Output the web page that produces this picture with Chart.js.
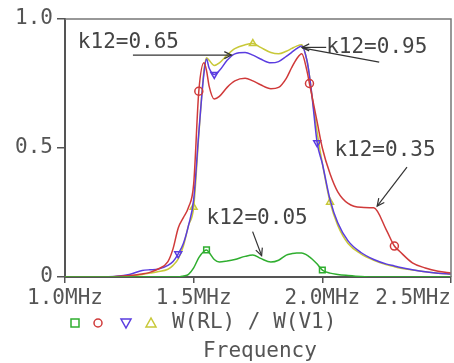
<!DOCTYPE html>
<html>
<head>
<meta charset="utf-8">
<script src="https://cdn.jsdelivr.net/npm/chart.js@4.4.1/dist/chart.umd.min.js"></script>
<style>
  html, body { margin: 0; padding: 0; background: #fff; }
  #wrap { width: 454px; height: 363px; position: relative; }
</style>
</head>
<body>
<div id="wrap"><canvas id="Filter"></canvas></div>
<script>
// frequency grid (MHz) shared by all curves
const freq = [1.0, 1.15, 1.2, 1.25, 1.3, 1.33, 1.36, 1.4, 1.42, 1.44,
  1.46, 1.48, 1.5, 1.52, 1.54, 1.55, 1.56, 1.58, 1.6, 1.63,
  1.66, 1.7, 1.73, 1.76, 1.8, 1.83, 1.86, 1.88, 1.9, 1.92,
  1.94, 1.95, 1.96, 1.98, 2.0, 2.03, 2.06, 2.1, 2.15, 2.2,
  2.25, 2.28, 2.3, 2.35, 2.4, 2.45, 2.5];

// W(RL)/W(V1) for each coupling factor
const k005 = [0, 0, 0, 0, 0, 0, 0, 0, 0, 0,
  0.004, 0.01, 0.035, 0.075, 0.1, 0.105, 0.095, 0.068, 0.058, 0.062,
  0.068, 0.08, 0.085, 0.072, 0.058, 0.065, 0.085, 0.09, 0.093, 0.093,
  0.085, 0.078, 0.07, 0.05, 0.027, 0.015, 0.01, 0.006, 0.002, 0,
  0, 0, 0, 0, 0, 0, 0];
const k035 = [0, 0, 0.002, 0.006, 0.012, 0.018, 0.03, 0.06, 0.11, 0.19,
  0.23, 0.27, 0.36, 0.72, 0.83, 0.8, 0.74, 0.69, 0.7, 0.735,
  0.76, 0.77, 0.76, 0.745, 0.73, 0.735, 0.77, 0.81, 0.845, 0.865,
  0.8, 0.75, 0.7, 0.6, 0.5, 0.4, 0.33, 0.285, 0.27, 0.268,
  0.18, 0.12, 0.1, 0.055, 0.035, 0.022, 0.015];
const k065 = [0, 0.001, 0.003, 0.01, 0.025, 0.028, 0.03, 0.045, 0.06, 0.09,
  0.13, 0.2, 0.3, 0.56, 0.79, 0.845, 0.81, 0.785, 0.8, 0.84,
  0.865, 0.87, 0.86, 0.845, 0.83, 0.835, 0.855, 0.87, 0.885, 0.895,
  0.84, 0.78, 0.7, 0.52, 0.44, 0.3, 0.21, 0.14, 0.095, 0.068,
  0.05, 0.043, 0.038, 0.028, 0.02, 0.015, 0.012];
const k095 = [0, 0, 0.002, 0.005, 0.01, 0.015, 0.02, 0.03, 0.045, 0.07,
  0.12, 0.2, 0.27, 0.55, 0.8, 0.85, 0.84, 0.82, 0.83, 0.86,
  0.885, 0.9, 0.905, 0.89, 0.87, 0.865, 0.875, 0.885, 0.895, 0.9,
  0.84, 0.78, 0.7, 0.56, 0.44, 0.29, 0.2, 0.13, 0.09, 0.065,
  0.047, 0.04, 0.035, 0.027, 0.02, 0.015, 0.012];

// where the probe puts its symbols
const mark005 = [1.55, 2.0];
const mark035 = [1.52, 1.95, 2.28];
const mark065 = [1.44, 1.58, 1.98];
const mark095 = [1.5, 1.73, 2.03];

const xTicks = [1.0, 1.5, 2.0, 2.5];
const xLabels = ["1.0MHz", "1.5MHz", "2.0MHz", "2.5MHz"];

const FONT = '21px "DejaVu Sans Mono", "Liberation Mono", monospace';
const TXT = "#555";

function series(vals, marks, color, style, rot) {
  return {
    data: freq.map((f, i) => ({ x: f, y: vals[i] })),
    borderColor: color,
    backgroundColor: "rgba(0,0,0,0)",
    borderWidth: 1.5,
    pointStyle: style,
    rotation: rot,
    pointBorderWidth: 1.5,
    pointBorderColor: color,
    pointBackgroundColor: "rgba(0,0,0,0)",
    pointRadius: c => marks.includes(freq[c.dataIndex]) ? 4 : 0,
    tension: 0.3,
    cubicInterpolationMode: "monotone",
  };
}

function arrowHead(ctx, x0, y0, x1, y1) {
  const a = Math.atan2(y1 - y0, x1 - x0);
  ctx.beginPath();
  ctx.moveTo(x1 - 8 * Math.cos(a - 0.45), y1 - 8 * Math.sin(a - 0.45));
  ctx.lineTo(x1, y1);
  ctx.lineTo(x1 - 8 * Math.cos(a + 0.45), y1 - 8 * Math.sin(a + 0.45));
  ctx.stroke();
}

// labels, arrows, x tick text, frame and symbol legend
const probeDeco = {
  id: "probeDeco",
  afterDraw(chart) {
    const { ctx, chartArea: a, scales: { x, y } } = chart;
    const P = (f, v) => [x.getPixelForValue(f), y.getPixelForValue(v)];
    ctx.save();

    // top + right frame
    ctx.strokeStyle = "#777";
    ctx.lineWidth = 1.5;
    ctx.beginPath();
    ctx.moveTo(a.left, a.top);
    ctx.lineTo(a.right, a.top);
    ctx.lineTo(a.right, a.bottom);
    ctx.stroke();

    ctx.font = FONT;
    ctx.fillStyle = TXT;
    ctx.textBaseline = "middle";

    // x tick labels, last one kept inside the canvas
    xTicks.forEach((v, i) => {
      const w = ctx.measureText(xLabels[i]).width;
      let l = x.getPixelForValue(v) - w / 2;
      l = Math.min(l, chart.width - w - 3);
      ctx.fillText(xLabels[i], l, a.bottom + 22);
    });

    // curve labels
    ctx.fillStyle = "#444";
    const notes = [
      ["k12=0.65", 1.05, 0.907],
      ["k12=0.95", 2.015, 0.89],
      ["k12=0.35", 2.047, 0.492],
      ["k12=0.05", 1.55, 0.225],
    ];
    notes.forEach(([t, f, v]) => {
      const [px, py] = P(f, v);
      ctx.fillText(t, px, py);
    });

    ctx.strokeStyle = "#333";
    ctx.lineWidth = 1.2;
    const line = (f0, v0, f1, v1, head) => {
      const [x0, y0] = P(f0, v0), [x1, y1] = P(f1, v1);
      ctx.beginPath();
      ctx.moveTo(x0, y0);
      ctx.lineTo(x1, y1);
      ctx.stroke();
      if (head) arrowHead(ctx, x0, y0, x1, y1);
    };
    line(1.264, 0.86, 1.647, 0.86, true);
    line(2.015, 0.89, 1.921, 0.89, true);
    line(1.921, 0.888, 2.221, 0.833, false);
    line(2.329, 0.426, 2.213, 0.275, true);
    line(1.729, 0.176, 1.764, 0.083, true);

    // symbol legend + trace name
    const ly = a.bottom + 46;
    ctx.lineWidth = 1.5;
    ctx.strokeStyle = "#2fae2f";
    ctx.strokeRect(71, ly - 4, 8, 8);
    ctx.strokeStyle = "#d03a3a";
    ctx.beginPath(); ctx.arc(98, ly, 4, 0, Math.PI * 2); ctx.stroke();
    ctx.strokeStyle = "#5a3ce0";
    ctx.beginPath(); ctx.moveTo(121, ly - 4); ctx.lineTo(131, ly - 4); ctx.lineTo(126, ly + 5); ctx.closePath(); ctx.stroke();
    ctx.strokeStyle = "#c8c838";
    ctx.beginPath(); ctx.moveTo(146, ly + 4); ctx.lineTo(156, ly + 4); ctx.lineTo(151, ly - 5); ctx.closePath(); ctx.stroke();

    ctx.fillStyle = TXT;
    ctx.fillText("W(RL) / W(V1)", 172, ly);
    ctx.textAlign = "center";
    ctx.fillText("Frequency", 260, a.bottom + 75);
    ctx.restore();
  }
};

const chart = new Chart(document.getElementById("Filter").getContext("2d"), {
  type: "line",
  data: {
    datasets: [
      series(k005, mark005, "#2fae2f", "rect", 0),
      series(k035, mark035, "#d03a3a", "circle", 0),
      series(k065, mark065, "#5a3ce0", "triangle", 180),
      series(k095, mark095, "#c8c838", "triangle", 0),
    ],
  },
  options: {
    responsive: true,
    maintainAspectRatio: false,
    animation: false,
    layout: { padding: { top: 19, right: 3, left: 0, bottom: 0 } },
    plugins: { legend: { display: false }, tooltip: { enabled: false } },
    scales: {
      x: {
        type: "linear",
        min: 1.0,
        max: 2.5,
        afterFit: s => { s.height = 86; },
        afterBuildTicks: s => { s.ticks = xTicks.map(v => ({ value: v })); },
        ticks: { display: false },
        grid: { drawOnChartArea: false, color: "#555", lineWidth: 1.5, tickLength: 6 },
        border: { color: "#555", width: 2 },
      },
      y: {
        min: 0,
        max: 1,
        afterFit: s => { s.width = 65; },
        ticks: {
          stepSize: 0.5,
          padding: 4,
          color: TXT,
          font: { family: '"DejaVu Sans Mono", monospace', size: 21 },
          callback: v => v === 0 ? "0" : v.toFixed(1),
        },
        grid: { drawOnChartArea: false, color: "#555", lineWidth: 1.5, tickLength: 8 },
        border: { color: "#555", width: 2 },
      },
    },
  },
  plugins: [probeDeco],
});
</script>
</body>
</html>
